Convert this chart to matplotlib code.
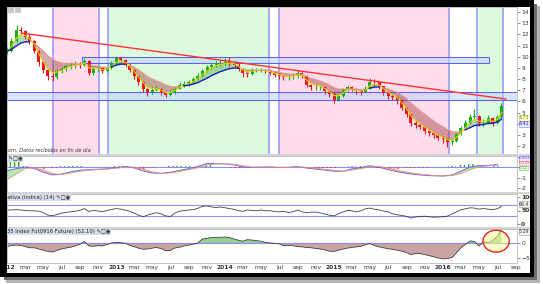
import matplotlib
matplotlib.use("Agg")
import matplotlib.pyplot as plt
import matplotlib.dates as mdates
from matplotlib.patches import Rectangle, Ellipse
import numpy as np
import pandas as pd

W, H = 543, 284

# closes on the 1st and 15th of every month, Jan 2012 - Jul 2016
close = [10.5, 11.4, 12.4, 12.3, 11.8, 11.4, 10.5, 9.5, 8.8, 8.3,
         8.2, 8.7, 8.9, 9.15, 9.3, 9.35, 9.3, 9.65, 8.55, 8.9,
         8.95, 8.7, 8.95, 9.4, 9.9, 9.7, 9.3, 8.8, 8.3, 7.75,
         7.1, 6.85, 7.05, 7.1, 6.85, 6.6, 6.8, 7.15, 7.5, 7.6,
         7.75, 8.0, 8.25, 8.7, 9.05, 9.25, 9.4, 9.4, 9.5, 9.45,
         9.3, 8.9, 8.5, 8.45, 8.8, 8.8, 8.8, 8.75, 8.55, 8.4,
         8.25, 8.15, 8.15, 8.25, 8.5, 8.3, 7.45, 7.3, 7.3, 7.3,
         6.9, 6.65, 6.15, 6.5, 7.05, 7.3, 7.1, 6.9, 6.85, 7.15,
         7.75, 7.7, 7.35, 6.85, 6.5, 6.4, 6.1, 5.4, 4.85, 4.05,
         3.9, 3.75, 3.35, 3.15, 2.95, 2.75, 2.6, 2.35, 2.45, 3.05,
         3.6, 4.05, 4.6, 4.7, 4.05, 4.1, 4.55, 4.05, 4.6, 5.6]
high = [10.9, 11.7, 12.8, 12.7, 12.4, 12.0, 11.5, 10.6, 9.6, 8.9,
        8.5, 8.9, 9.1, 9.3, 9.5, 9.6, 9.5, 9.9, 9.7, 9.1,
        9.2, 9.0, 9.1, 9.6, 10.1, 10.0, 9.8, 9.4, 8.9, 8.4,
        7.8, 7.2, 7.3, 7.4, 7.2, 6.9, 7.0, 7.3, 7.7, 7.8,
        7.9, 8.2, 8.5, 8.9, 9.3, 9.5, 9.6, 9.7, 9.9, 10.0,
        9.6, 9.4, 9.0, 8.7, 9.0, 9.0, 9.0, 8.9, 8.9, 8.7,
        8.5, 8.4, 8.4, 8.5, 8.8, 8.6, 8.4, 7.6, 7.6, 7.5,
        7.4, 7.0, 6.8, 6.7, 7.2, 7.5, 7.4, 7.2, 7.1, 7.4,
        8.1, 8.0, 7.8, 7.4, 6.9, 6.7, 6.5, 6.2, 5.5, 4.9,
        4.3, 4.1, 3.8, 3.5, 3.3, 3.1, 2.9, 2.7, 2.7, 3.2,
        3.8, 4.3, 4.9, 5.3, 4.8, 4.4, 4.8, 4.6, 4.8, 5.9]
low = [10.2, 10.4, 11.3, 12.0, 11.6, 11.1, 10.3, 9.2, 8.5, 7.9,
       7.8, 8.0, 8.5, 8.7, 8.9, 9.0, 9.0, 9.2, 8.4, 8.4,
       8.7, 8.5, 8.6, 8.9, 9.3, 9.5, 9.1, 8.6, 8.0, 7.5,
       6.8, 6.5, 6.7, 6.9, 6.6, 6.4, 6.5, 6.7, 7.1, 7.3,
       7.4, 7.6, 7.9, 8.2, 8.6, 8.9, 9.1, 9.2, 9.3, 9.2,
       9.1, 8.7, 8.2, 8.2, 8.4, 8.6, 8.6, 8.5, 8.4, 8.2,
       8.0, 7.9, 7.9, 8.0, 8.1, 8.1, 7.3, 7.0, 7.0, 7.0,
       6.7, 6.4, 5.9, 6.0, 6.4, 6.9, 6.9, 6.7, 6.6, 6.8,
       7.1, 7.4, 7.1, 6.6, 6.2, 6.1, 5.8, 5.2, 4.6, 3.8,
       3.6, 3.5, 3.1, 2.9, 2.7, 2.5, 2.3, 1.9, 2.1, 2.4,
       3.0, 3.5, 4.0, 4.4, 3.8, 3.8, 4.0, 3.8, 4.0, 4.5]

rsi = [52, 52, 53, 52, 50, 49, 48.5, 48, 42, 33,
       31, 35, 40, 43, 45, 47, 51, 57, 46, 51,
       48, 46, 50, 54, 57, 55, 51, 47, 40, 33,
       27, 33, 38, 42, 37, 30, 28, 40, 47, 50,
       52, 53, 58, 65, 67, 63, 61, 63, 60, 57,
       54, 49, 47, 52, 50, 49, 52, 49, 49, 46,
       45, 47, 43, 45, 52, 45, 42, 44, 44, 41,
       37, 33, 30, 38, 45, 51, 49, 45, 49, 56,
       59, 55, 52, 48, 45, 38, 34, 32, 28, 22,
       26, 28, 29, 27, 25, 26, 27, 29, 38, 45,
       53, 56, 60, 59, 55, 57, 55, 53, 57, 64]

rel_ibex = [-1.2, -0.8, -0.7, -0.8, -1.2, -1.6, -1.6, -2.0, -2.4, -2.8,
            -3.0, -2.5, -2.0, -1.7, -1.4, -1.0, -0.4, 0.5, -1.0, -1.1,
            -0.9, -1.0, -0.5, 0.0, 0.2, 0.1, -0.1, -0.8, -1.2, -1.7,
            -2.1, -2.0, -1.7, -1.5, -1.9, -2.6, -2.5, -1.7, -1.4, -1.0,
            -0.7, -0.4, 0.0, 1.3, 1.6, 1.8, 1.9, 1.9, 2.0, 1.8,
            1.3, 0.9, 0.6, 1.1, 1.0, 0.8, 0.6, 0.2, 0.0, -0.1,
            -0.3, -0.9, -0.8, -0.9, -1.2, -1.3, -1.5, -1.6, -1.8, -2.0,
            -2.3, -2.7, -2.8, -2.4, -2.0, -1.7, -1.5, -1.3, -1.1, -0.6,
            -0.2, -0.8, -1.3, -1.6, -1.9, -2.1, -2.4, -2.7, -3.2, -3.9,
            -3.5, -3.5, -3.9, -4.2, -4.6, -5.0, -5.3, -5.2, -4.8, -3.3,
            -1.6, -0.5, 0.7, 0.5, -1.0, 0.5, 0.1, 0.8, 2.2, 4.5]

# monthly MACD and signal line
macd = [-0.35, -0.15, -0.02, -0.13, -0.5, -0.75, -0.67, -0.45, -0.3, -0.26,
        -0.21, -0.18, -0.05, 0.04, -0.08, -0.38, -0.58, -0.6, -0.5, -0.32,
        -0.15, 0.05, 0.35, 0.32, 0.3, 0.2, 0.0, -0.04, 0.0, 0.0,
        -0.05, -0.02, 0.04, -0.1, -0.2, -0.3, -0.4, -0.4, -0.18, -0.06,
        0.12, -0.02, -0.25, -0.45, -0.6, -0.72, -0.79, -0.84, -0.86, -0.75,
        -0.4, 0.0, 0.14, 0.14, 0.26]
signal = [-1.2, -0.65, -0.15, -0.06, -0.3, -0.62, -0.72, -0.58, -0.4, -0.3,
          -0.25, -0.2, -0.12, -0.02, 0.0, -0.2, -0.45, -0.6, -0.57, -0.42,
          -0.25, -0.08, 0.18, 0.3, 0.3, 0.26, 0.12, 0.0, -0.02, 0.0,
          -0.02, -0.04, 0.0, -0.02, -0.12, -0.22, -0.32, -0.4, -0.3, -0.15,
          0.0, 0.06, -0.1, -0.3, -0.48, -0.62, -0.72, -0.8, -0.85, -0.82,
          -0.62, -0.25, 0.02, 0.12, 0.18]

trend_dates = ["2012-02-17", "2016-07-30"]
trend_values = [12.12, 6.21]
band_top = (9.45, 10.0, "2012-09-08", "2016-06-03")
band_low = (6.12, 6.85)
vline_dates = ["2012-06-03", "2012-11-04", "2012-12-04", "2014-05-28",
               "2014-06-30", "2016-01-20", "2016-04-23", "2016-07-19"]
pink_spans = [("2012-06-03", "2012-11-04"), ("2014-06-30", "2016-01-20")]
green_spans = [("2012-12-04", "2014-05-28"), ("2016-04-23", "2016-07-19")]
meses = ["ene", "feb", "mar", "abr", "may", "jun", "jul", "ago", "sep", "oct", "nov", "dic"]


def d(s):
    return mdates.date2num(pd.Timestamp(s).to_pydatetime())


def rect(x0, y0, x1, y1):
    return [x0 / W, 1 - y1 / H, (x1 - x0) / W, (y1 - y0) / H]


def fig_box(x0, y0, x1, y1, color, z=20):
    fig.add_artist(Rectangle((x0 / W, 1 - y1 / H), (x1 - x0) / W, (y1 - y0) / H,
                             transform=fig.transFigure, fc=color, ec="none", zorder=z))


def side_label(a, yv, txt, tc, fc, ec, size=3.4):
    a.text(1.004, yv, txt, transform=a.get_yaxis_transform(), fontsize=size, color=tc,
           va="center", ha="left", clip_on=False, zorder=6,
           bbox=dict(boxstyle="square,pad=0.1", fc=fc, ec=ec, lw=0.4))


x = mdates.date2num(pd.date_range("2012-01-01", periods=len(close), freq="SMS").to_pydatetime())
xm = mdates.date2num(pd.date_range("2012-01-01", periods=len(macd), freq="MS").to_pydatetime())

fig = plt.figure(figsize=(W / 100, H / 100), dpi=100)
fig.patch.set_facecolor("white")

ax = fig.add_axes(rect(7, 7, 517, 154))
ax2 = fig.add_axes(rect(7, 156, 517, 192), sharex=ax)
ax3 = fig.add_axes(rect(7, 194, 517, 227), sharex=ax)
ax4 = fig.add_axes(rect(7, 229, 517, 263), sharex=ax)

for a in (ax, ax2, ax3, ax4):
    a.yaxis.tick_right()
    a.tick_params(axis="y", labelsize=4.3, length=2, width=0.4, pad=1, colors="#333333")
    a.tick_params(axis="x", length=0)
    for s in a.spines.values():
        s.set_color("#b8b8c8")
        s.set_linewidth(0.6)
    a.set_facecolor("white")
for a in (ax, ax2, ax3):
    plt.setp(a.get_xticklabels(), visible=False)

# ---- main price panel
for s0, s1 in pink_spans:
    ax.axvspan(d(s0), d(s1), color="#ffdcec", lw=0, zorder=0)
for s0, s1 in green_spans:
    ax.axvspan(d(s0), d(s1), color="#dcfadc", lw=0, zorder=0)
for v in vline_dates:
    ax.axvline(d(v), color="#9a9aff", lw=1.2, zorder=1)

lo, hi, b0, b1 = band_top
ax.add_patch(Rectangle((d(b0), lo), d(b1) - d(b0), hi - lo, fc=(0.72, 0.82, 1, 0.55),
                       ec="#5a5aff", lw=0.7, zorder=1))
ax.axhspan(band_low[0], band_low[1], fc=(0.72, 0.82, 1, 0.55), ec="#5a5aff", lw=0.7, zorder=1)

c = np.array(close)
o = np.r_[c[0], c[:-1]]
fast = pd.Series(c).ewm(span=3, adjust=False).mean().values
slow = pd.Series(c).ewm(span=10, adjust=False).mean().values
ax.fill_between(x, fast, slow, where=fast >= slow, interpolate=True, color="#5cb85c", alpha=0.5, lw=0, zorder=2)
ax.fill_between(x, fast, slow, where=fast < slow, interpolate=True, color="#a04040", alpha=0.45, lw=0, zorder=2)

up = c >= o
for mask, col in ((up, "#18b018"), (~up, "#ee1515")):
    ax.vlines(x[mask], np.array(low)[mask], np.array(high)[mask], color=col, lw=0.8, zorder=3)
    ax.bar(x[mask], (c - o)[mask], bottom=o[mask], width=10, color=col, lw=0, zorder=3)

ax.plot(x, fast, color="#e8d400", lw=0.8, zorder=4)
ax.plot(x, np.ma.masked_where(fast < slow, slow), color="#1a1ac8", lw=1.0, zorder=4)
ax.plot(x, np.ma.masked_where(fast >= slow, slow), color="#e89090", lw=0.8, zorder=4)
ax.plot([d(t) for t in trend_dates], trend_values, color="#ff3030", lw=1.0, zorder=5)

ax.set_ylim(1.29, 14.45)
ax.set_yticks(range(2, 15))
ax.set_yticklabels(["" if v == 4 else str(v) for v in range(2, 15)])
side_label(ax, 4.55, "4.73", "#8a8a00", "#ffffc0", "#c8c860")
side_label(ax, 3.98, "4.41", "#2020c0", "#e4e8ff", "#8080ff")
ax.text(0.002, 0.005, "om. Datos recibidos en fin de día", transform=ax.transAxes, fontsize=3.6,
        style="italic", color="#333333", va="bottom", ha="left", zorder=6)

# ---- MACD panel
m = np.array(macd)
sg = np.array(signal)
hist = m - sg
pos = hist >= 0
ax2.bar(xm[pos], hist[pos], width=26, fc="none", ec="#22aa22", hatch="||||", lw=0, zorder=2)
ax2.bar(xm[~pos], hist[~pos], width=26, fc="none", ec="#ee3333", hatch="||||", lw=0, zorder=2)
ax2.fill_between(xm, m, sg, where=m >= sg, interpolate=True, color="#88dd88", alpha=0.6, lw=0, zorder=2)
ax2.fill_between(xm, m, sg, where=m < sg, interpolate=True, color="#ff9999", alpha=0.6, lw=0, zorder=2)
ax2.axhline(0, color="#8c8cff", lw=0.8, zorder=1)
ax2.plot(xm, m, color="#6a6ae8", lw=0.7, zorder=3)
ax2.plot(xm, sg, color="#f09070", lw=0.6, zorder=3)
ax2.set_ylim(-2.38, 1.05)
ax2.set_yticks([-2, -1, 0, 1])
ax2.set_yticklabels(["-2", "-1", "", ""])
side_label(ax2, 0.85, "0.302", "#4040d0", "#eceeff", "#8080ff", size=3.0)
side_label(ax2, 0.38, "0.235", "#e04040", "#fff0f0", "#f09090", size=3.0)
side_label(ax2, -0.1, "0.12", "#30a030", "#e6ffe6", "#80c080", size=3.0)

# ---- RSI panel
ax3.axhline(70, color="#9090ff", lw=0.8)
ax3.axhline(30, color="#9090ff", lw=0.8)
ax3.plot(x, rsi, color="#333333", lw=0.55)
ax3.set_ylim(-11, 111)
ax3.set_yticks([0, 50, 100])
for lbl in ax3.get_yticklabels():
    lbl.set_fontweight("bold")
side_label(ax3, 74, "66.4", "#333333", "#f4f4f4", "#999999")

# ---- relative strength vs IBEX panel
r = np.array(rel_ibex)
ax4.fill_between(x, r, 0, where=r >= 0, interpolate=True, color="#82c882", alpha=0.85, lw=0)
ax4.fill_between(x, r, 0, where=r < 0, interpolate=True, color="#c49a98", alpha=0.9, lw=0)
ax4.axhline(0, color="#8c8cff", lw=0.8)
ax4.plot(x, r, color="#333333", lw=0.55)
ax4.add_patch(Ellipse((d("2016-06-27"), 0.6), 88, 7.3, fc=(1, 1, 0.55, 0.5), ec="#ee2020", lw=1.0, zorder=5))
ax4.set_ylim(-6.67, 4.67)
ax4.set_yticks([-5, 0])
side_label(ax4, 3.7, "5.29", "#333333", "#f4f4f4", "#999999")

tick_dates = pd.date_range("2012-01-01", "2016-09-01", freq="2MS")
ax4.set_xticks(mdates.date2num(tick_dates.to_pydatetime()))
ax4.set_xticklabels([str(t.year) if t.month == 1 else meses[t.month - 1] for t in tick_dates])
ax4.tick_params(axis="x", labelsize=4.3, pad=1.5, colors="#333333")
for lbl in ax4.get_xticklabels():
    if lbl.get_text().isdigit():
        lbl.set_fontweight("bold")
ax.set_xlim(d("2011-12-31"), d("2016-09-05"))

# panel headers
fig.text(7 / W, 1 - 159 / H, " ✎□◉", fontsize=3.8, va="center", ha="left", color="#222222", zorder=15,
         bbox=dict(boxstyle="square,pad=0.15", fc="#d6dfe9", ec="none"))
fig.text(7 / W, 1 - 197.5 / H, "ativa (índice) (14) ✎□◉", fontsize=3.8, va="center", ha="left",
         color="#222222", zorder=15, bbox=dict(boxstyle="square,pad=0.15", fc="#d6dfe9", ec="none"))
fig.text(7 / W, 1 - 232 / H, "35 Index Fut0916 Future) (52,10) ✎□◉", fontsize=3.8, va="center", ha="left",
         color="#222222", zorder=15, bbox=dict(boxstyle="square,pad=0.15", fc="#d6dfe9", ec="none"))
fig_box(8, 8, 14, 13, "#c8c8c8", z=15)
fig_box(15, 8, 21, 13, "#c8c8c8", z=15)

# separators between panels
for y0 in (154, 192, 227):
    fig_box(7, y0, 530, y0 + 2, "#d4d4d4", z=12)

# screenshot frame and shadow
fig_box(0, 0, 534, 7, "black")
fig_box(0, 0, 7, 277, "black")
fig_box(530, 0, 534, 277, "black")
fig_box(0, 273, 534, 277, "black")
fig_box(534, 4, 537, 280, "#6e6e6e")
fig_box(537, 6, 540, 283, "#b4b4b4")
fig_box(4, 277, 537, 280, "#6e6e6e")
fig_box(6, 280, 540, 283, "#b4b4b4")

fig.savefig("out.png", dpi=100)
